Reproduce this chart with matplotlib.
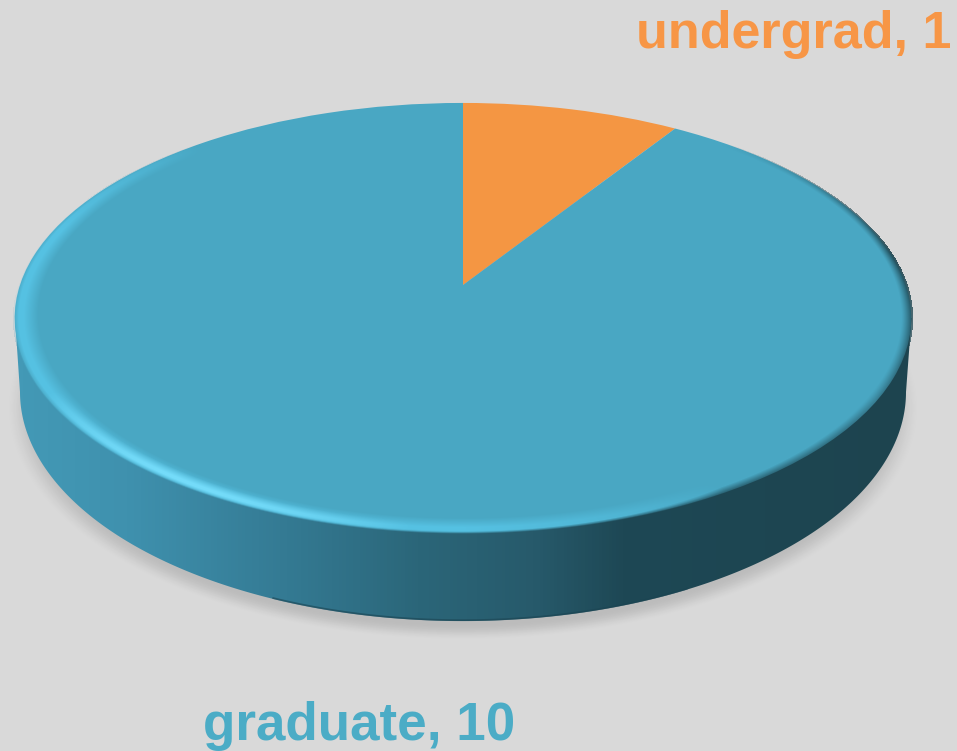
import numpy as np
import matplotlib
matplotlib.use('Agg')
import matplotlib.pyplot as plt
from matplotlib.colors import LinearSegmentedColormap, to_rgb
from matplotlib.patches import Polygon
from matplotlib.transforms import Transform

categories = ['undergrad', 'graduate']
values = [1, 10]
slice_colors = ['#f49643', '#49a7c3']
label_colors = ['#f79646', '#4bacc6']

BG = '#d9d9d9'
WIDTH, HEIGHT = 957, 751

# camera of the tilted disc, in pixels
APEX_X, APEX_Y = 463, 285
SCALE_X, SCALE_Y, TILT = 443.0, 210.0, 0.1535


class Tilt(Transform):
    """unit disc -> picture pixels, with the perspective of the 3d pie"""
    input_dims = 2
    output_dims = 2

    def transform_non_affine(self, values):
        values = np.asarray(values)
        w = 1 + TILT * values[:, 1]
        return np.column_stack([APEX_X + SCALE_X * values[:, 0] / w,
                                APEX_Y - SCALE_Y * values[:, 1] / w])


fig = plt.figure(figsize=(WIDTH / 100, HEIGHT / 100), dpi=100, facecolor=BG)
ax = fig.add_axes([0, 0, 1, 1])

xx, yy = np.meshgrid(np.arange(WIDTH) + 0.5, np.arange(HEIGHT) + 0.5)
extent = (0, WIDTH, HEIGHT, 0)

# soft shadow under the disc
shadow_d = np.hypot((xx - 463) / 452, (yy - 408) / 230)
fade = np.clip((1.012 - shadow_d) / 0.07, 0, 1)
shadow = np.zeros((HEIGHT, WIDTH, 4))
shadow[..., 3] = 0.13 * fade * fade * (3 - 2 * fade)
ax.imshow(shadow, extent=extent, aspect='auto', zorder=1)

# side wall, shaded left to right
wall_cmap = LinearSegmentedColormap.from_list('wall', [
    (0.0, '#4399b6'), (0.12, '#3f91ae'), (0.3, '#347a93'), (0.45, '#2b6679'),
    (0.58, '#275a6b'), (0.68, '#1e4855'), (1.0, '#1d444f')])
t = np.linspace(0, 1, 400)[::-1] * np.pi
low_x = 463 + 443 * np.cos(t)
low_y = 392 + 229 * np.sin(t)
wall_outline = np.column_stack([low_x, low_y])
wall_outline = np.vstack([[15, 318], wall_outline, [911.5, 318]])
wall_img = ax.imshow(xx[:1] / WIDTH, extent=extent, aspect='auto', cmap=wall_cmap,
                     vmin=20 / WIDTH, vmax=907 / WIDTH, zorder=2)
wall_clip = Polygon(wall_outline, closed=True, transform=ax.transData)
wall_img.set_clip_path(wall_clip)

# thin darker line along the bottom of the wall, only near the front
front_part = (low_x > 270) & (low_x < 690)
ax.plot(low_x[front_part], low_y[front_part] - 0.8, color='#1b4452', lw=1.3, alpha=0.6,
        zorder=3, solid_capstyle='butt')

# top face
wedges, _ = ax.pie(values, startangle=90, counterclock=False, colors=slice_colors,
                   radius=1, center=(0, 0))
for wedge in wedges:
    wedge.set_transform(Tilt() + ax.transData)
    wedge.set_zorder(4)
    wedge.set_linewidth(0)

# bevel on the rim of the top face
py = (APEX_Y - yy) / (SCALE_Y - TILT * (APEX_Y - yy))
px = (xx - APEX_X) * (1 + TILT * py) / SCALE_X
rr = np.hypot(px, py)
safe_r = np.maximum(rr, 1e-6)
facing = (px * -0.55 + py * -0.83) / safe_r
side_facing = (px * -0.8 + py * -0.6) / safe_r

light = np.clip((side_facing - 0.1) / 0.5, 0, 1) ** 0.8 * np.clip((rr - 0.948) / 0.032, 0, 1)
light = light * np.clip((1.003 - rr) / 0.012, 0, 1)
light_2 = np.clip(1 - np.abs(facing - 1) / 0.12, 0, 1) * np.clip((rr - 0.96) / 0.022, 0, 1)
dark = np.clip(-facing + 0.15, 0, 1) ** 0.5 * np.clip((rr - 0.978) / 0.022, 0, 1) ** 1.3
dark = dark * np.clip((0.75 - py) / 0.6, 0, 1)
# front of the rim falls off into the wall colour
front = np.clip(-py, 0, 1) * np.clip((rr - 0.98) / 0.02, 0, 1) * 0.85

rim = np.zeros((HEIGHT, WIDTH, 4))
alpha = np.clip(np.maximum.reduce([light * 0.85, dark, front]), 0, 1)
mix = (light * 0.85 / np.maximum(alpha, 1e-6))[..., None].clip(0, 1)
wall_rgb = wall_cmap(np.clip((xx - 20) / (907 - 20), 0, 1))[..., :3]
rim[..., :3] = mix * np.array(to_rgb('#58c6e8')) + (1 - mix) * wall_rgb
rim[..., 3] = alpha
rim[rr > 1.004] = 0
ax.imshow(rim, extent=extent, aspect='auto', zorder=5)

glow = np.zeros((HEIGHT, WIDTH, 4))
glow[..., :3] = to_rgb('#7ce2ff')
glow[..., 3] = 0.85 * light_2 * np.clip((1.0 - rr) / 0.012, 0, 1)
ax.imshow(glow, extent=extent, aspect='auto', zorder=6)

# data labels
label_pos = [(951, 48, 'right', 37.5), (203, 740, 'left', 38.2)]
for name, val, color, (x, y, ha, size) in zip(categories, values, label_colors, label_pos):
    ax.text(x, y, f'{name}, {val}', color=color, fontsize=size, fontweight='bold',
            family='Liberation Sans', ha=ha, va='baseline', zorder=7)

ax.set_aspect('auto')
ax.set_xlim(0, WIDTH)
ax.set_ylim(HEIGHT, 0)
ax.axis('off')

plt.savefig('out.png', dpi=100, facecolor=BG)
plt.close()
